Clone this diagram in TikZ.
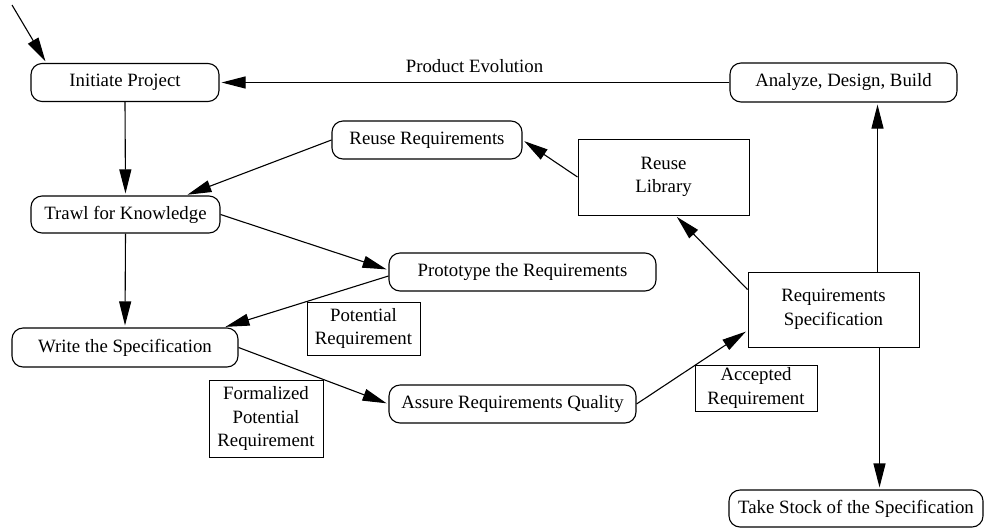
\documentclass[tikz,border=0pt]{standalone}
\usepackage{fontspec}
\setmainfont{Liberation Serif}
\usetikzlibrary{arrows.meta,calc}
\begin{document}
\begin{tikzpicture}[x=1pt,y=-1pt,
  every node/.style={font=\fontsize{18.8}{23.5}\selectfont, inner sep=0pt, align=center},
  activity/.style={draw, line width=1.1pt, rounded corners=11pt},
  store/.style={draw, line width=1.0pt},
  flowlabel/.style={draw, line width=1.0pt},
  arr/.style={line width=1.1pt, shorten >=2pt, -{Triangle[length=24pt,width=12pt]}}]
\useasboundingbox (0,0) rectangle (984,528);

% activities
\node[activity, minimum width=188pt, minimum height=38pt] (init) at (125,82.5) {Initiate Project};
\node[activity, minimum width=227pt, minimum height=39pt] (adb) at (843.5,82.5) {Analyze, Design, Build};
\node[activity, minimum width=190pt, minimum height=38pt] (reusereq) at (427,140) {Reuse Requirements};
\node[activity, minimum width=189pt, minimum height=37pt] (trawl) at (125.5,214.5) {Trawl for Knowledge};
\node[activity, minimum width=267pt, minimum height=38pt] (proto) at (522.5,272) {Prototype the Requirements};
\node[activity, minimum width=226pt, minimum height=39pt] (write) at (125,347.5) {Write the Specification};
\node[activity, minimum width=247pt, minimum height=38pt] (assure) at (512.5,404) {Assure Requirements Quality};
\node[activity, minimum width=254pt, minimum height=37pt] (stock) at (856,508.5) {Take Stock of the Specification};

% stores
\node[store, minimum width=171pt, minimum height=76pt] (lib) at (663.5,177) {Reuse\\Library};
\node[store, minimum width=171pt, minimum height=75pt] (spec) at (833.5,309.5) {Requirements\\Specification};

% flow labels
\node[flowlabel, minimum width=113pt, minimum height=53pt] (pot) at (363.5,328.5) {Potential\\Requirement};
\node[flowlabel, minimum width=114pt, minimum height=77pt] (formal) at (266,418.5) {Formalized\\Potential\\Requirement};
\node[flowlabel, minimum width=122pt, minimum height=46pt] (acc) at (756,388) {Accepted\\Requirement};

% connectors
\coordinate (entry) at (12,5);
\draw[arr] (entry) -- ($(init.north west)+(16,0)$);
\draw[arr] (adb.west) -- node[above=9pt] (evo) {Product Evolution} (init.east);
\draw[arr] (init.south) -- (trawl.north);
\draw[arr] (reusereq.west) -- ($(trawl.north east)+(-35,0)$);
\draw[arr] (lib.west) -- (reusereq.east);
\draw[arr] ($(spec.north west)+(0,18)$) -- ($(lib.south)+(12,0)$);
\draw[arr] ($(spec.north east)+(-42,0)$) coordinate (up) -- (up |- adb.south);
\draw[arr] ($(spec.south east)+(-40,0)$) coordinate (down) -- (down |- stock.north);
\draw[arr] (trawl.east) -- ($(proto.west)+(0,-2)$);
\draw[arr] ($(proto.west)+(0,4)$) -- ($(write.north east)+(-15,0)$);
\draw[arr] (trawl.south) -- (write.north);
\draw[arr] (write.east) -- (assure.west);
\draw[arr] (assure.east) -- ($(spec.south west)+(0,-17)$);
\end{tikzpicture}
\end{document}
